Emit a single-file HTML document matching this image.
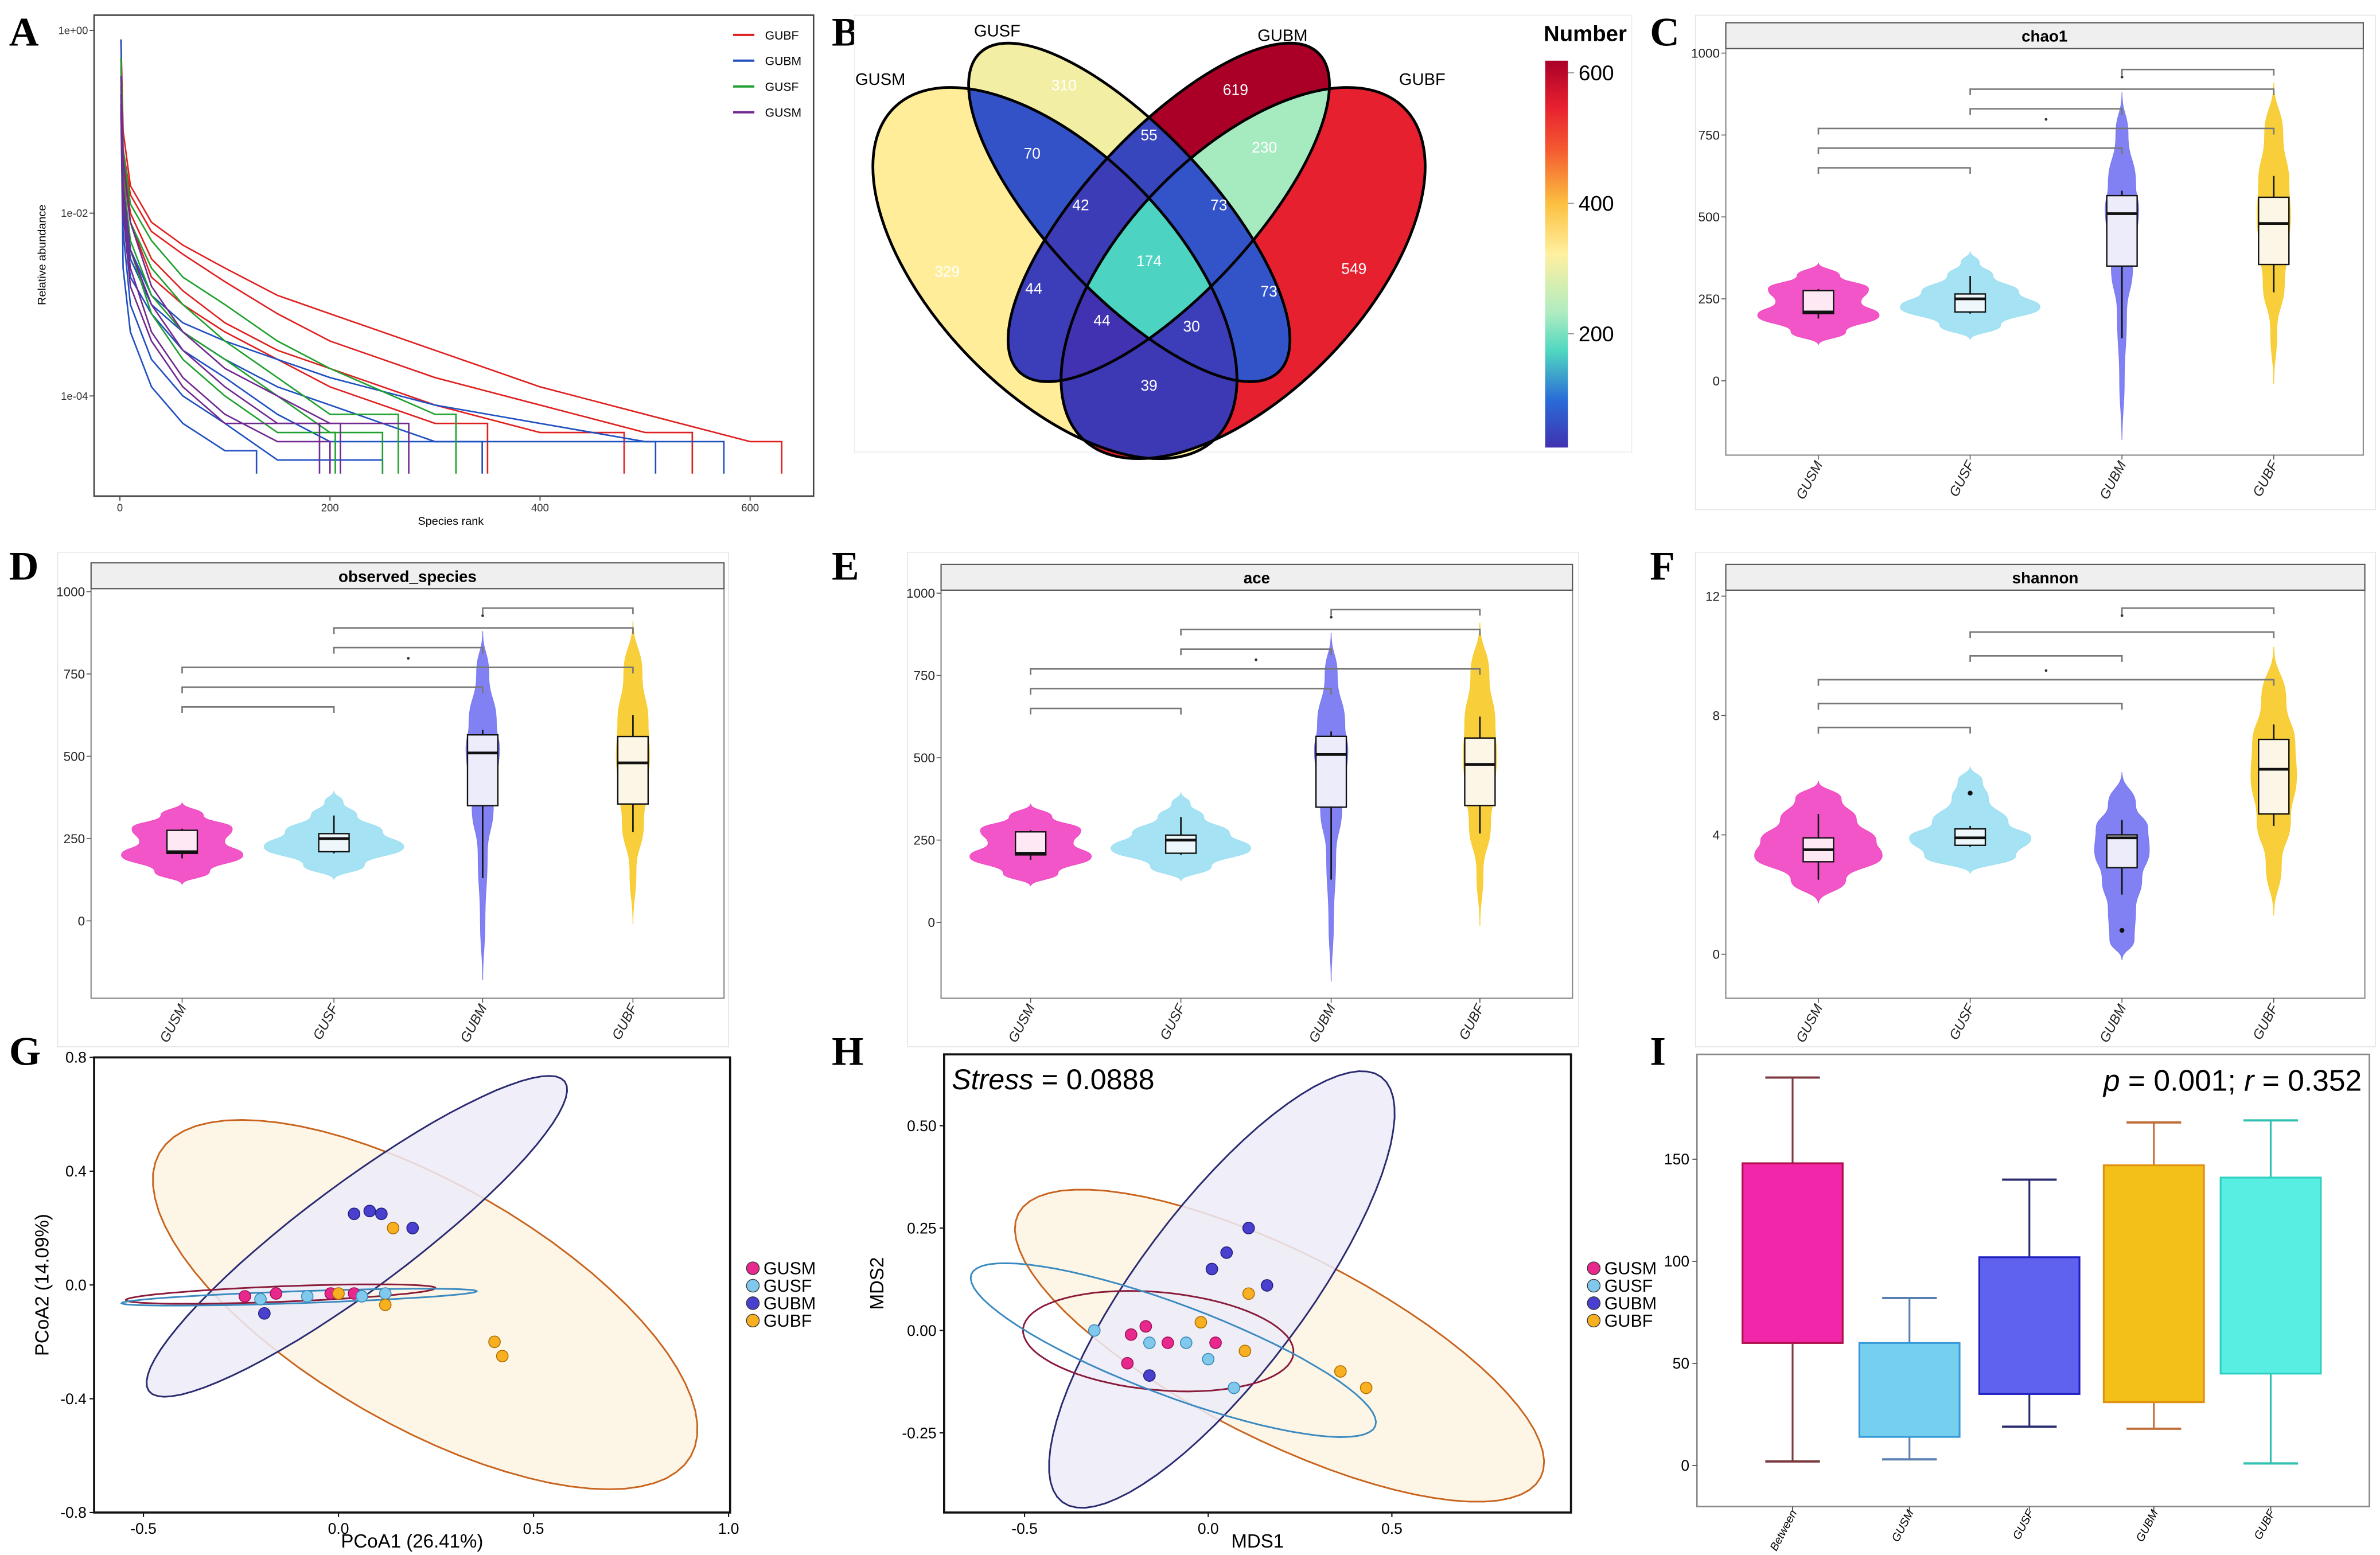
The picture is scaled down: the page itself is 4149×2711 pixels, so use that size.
<!DOCTYPE html>
<html><head><meta charset="utf-8"><style>
html,body{margin:0;padding:0;background:#fff;}
svg{display:block;font-family:"Liberation Sans",sans-serif;}
</style></head><body>
<svg id="fig" xmlns="http://www.w3.org/2000/svg" width="4149" height="2711" viewBox="0 0 1568 1025" preserveAspectRatio="none">
<defs>
<linearGradient id="cbar" x1="0" y1="1" x2="0" y2="0">
<stop offset="0" stop-color="#4032b0"/><stop offset="0.12" stop-color="#2a6ad8"/><stop offset="0.25" stop-color="#4fd8c0"/><stop offset="0.35" stop-color="#b0ecc0"/><stop offset="0.5" stop-color="#fff0a0"/><stop offset="0.63" stop-color="#fcc040"/><stop offset="0.77" stop-color="#f45a30"/><stop offset="0.88" stop-color="#e82030"/><stop offset="1" stop-color="#aa0028"/>
</linearGradient>
</defs>
</svg>
<script>
// ---------- DATA ----------
const rankKnots=[1,3,10,30,60,100,150,200,300,400,500,600];
const gubfCurves=[[-0.1,-1.1,-1.7,-2.1,-2.35,-2.6,-2.9,-3.1,-3.5,-3.9,-4.2,-4.5],[-0.3,-1.3,-1.8,-2.2,-2.45,-2.75,-3.1,-3.4,-3.8,-4.1,-4.4],[-0.5,-1.4,-2.0,-2.5,-2.85,-3.2,-3.5,-3.7,-4.1,-4.4],[-0.4,-1.5,-2.1,-2.7,-3.0,-3.3,-3.6,-3.9,-4.3]];
const gubfEnds=[630,545,480,350];
const gubmCurves=[[-0.1,-1.6,-2.4,-2.9,-3.2,-3.4,-3.6,-3.8,-4.1,-4.3,-4.5],[-0.7,-1.8,-2.5,-3.0,-3.3,-3.6,-3.9,-4.1,-4.5],[-0.8,-2.0,-2.7,-3.1,-3.5,-3.8,-4.2,-4.5],[-0.9,-2.2,-3.0,-3.6,-4.0,-4.3,-4.7],[-0.8,-2.6,-3.3,-3.9,-4.3,-4.6]];
const gubmEnds=[575,510,345,250,130];
const gusfCurves=[[-0.3,-1.3,-1.9,-2.3,-2.7,-3.0,-3.4,-3.7,-4.2],[-0.5,-1.4,-2.1,-2.6,-3.0,-3.4,-3.8,-4.2],[-0.6,-1.6,-2.3,-2.9,-3.3,-3.6,-4.0,-4.4],[-0.6,-1.7,-2.4,-3.1,-3.6,-4.0,-4.4]];
const gusfEnds=[320,265,250,205];
const gusmCurves=[[-0.5,-1.4,-2.1,-2.8,-3.3,-3.7,-4.0,-4.3],[-0.7,-1.7,-2.4,-3.0,-3.5,-3.9,-4.3],[-0.8,-1.9,-2.6,-3.3,-3.8,-4.2,-4.5],[-0.9,-2.0,-2.8,-3.4,-3.9,-4.3]];
const gusmEnds=[275,210,200,190];
const groupNamesA=['GUBF','GUBM','GUSF','GUSM'];
const yTicksA=[0,-2,-4];
const yTickLabelsA=['1e+00','1e-02','1e-04'];
const xTicksA=[0,200,400,600];

const vennSets=['GUSM','GUSF','GUBM','GUBF'];
const vennRegions=[[0],[1],[2],[3],[0,1],[1,2],[2,3],[0,3],[0,2],[1,3],[0,1,2],[1,2,3],[0,1,3],[0,2,3],[0,1,2,3]];
const vennCounts=[329,310,619,549,70,55,230,39,44,73,42,73,44,30,174];
const cbarTicks=[200,400,600];

const vioGroups=['GUSM','GUSF','GUBM','GUBF'];
const chaoProfiles=[
 [[110,0],[150,18],[200,40],[240,28],[280,33],[320,14],[360,0]],
 [[125,0],[170,20],[225,46],[270,32],[320,15],[360,6],[395,0]],
 [[-180,0],[0,1.5],[200,3],[350,7],[450,10],[520,11],[600,9],[750,4],[880,0]],
 [[-10,0],[150,2],[300,7],[420,10],[500,11],[600,10],[750,6],[910,0]]];
const chaoBoxes=[[190,205,210,275,280],[205,210,250,265,320],[130,350,510,565,580],[270,355,480,560,625]];
const chaoBrackets=[[0,1,650],[0,2,710],[0,3,770],[1,2,830],[1,3,890],[2,3,950]];
const richTicks=[0,250,500,750,1000];
const shanProfiles=[
 [[1.7,0],[2.5,18],[3.3,42],[3.8,38],[4.5,25],[5.2,15],[5.8,0]],
 [[2.7,0],[3.3,30],[3.9,40],[4.4,25],[5.2,12],[5.8,8],[6.3,0]],
 [[-0.2,0],[0.5,8],[1.5,9],[2.5,13],[3.5,18],[4.2,17],[5,9],[6.1,0]],
 [[1.3,0],[3,5],[4.5,11],[6,15],[7,14],[8.5,8],[10.3,0]]];
const shanBoxes=[[2.5,3.1,3.5,3.9,4.7],[3.6,3.65,3.9,4.2,4.3],[2.0,2.9,3.9,4.0,4.5],[4.3,4.7,6.2,7.2,7.7]];
const shanOutliers=[[],[5.4],[0.8],[]];
const shanBrackets=[[0,1,7.6],[0,2,8.4],[0,3,9.2],[1,2,10.0],[1,3,10.8],[2,3,11.6]];
const shanTicks=[0,4,8,12];

const pcoaGUSM=[[-0.24,-0.04],[-0.16,-0.03],[0.04,-0.03],[-0.02,-0.03]];
const pcoaGUSF=[[-0.20,-0.05],[-0.08,-0.04],[0.06,-0.04],[0.12,-0.03]];
const pcoaGUBM=[[0.04,0.25],[0.08,0.26],[0.11,0.25],[0.19,0.20],[-0.19,-0.10]];
const pcoaGUBF=[[0.14,0.20],[0.12,-0.07],[0.40,-0.20],[0.42,-0.25],[0.0,-0.03]];
const pcoaEllipses=[[0.222,-0.069,0.681,-0.533,-0.154,-0.371],[0.047,0.171,0.533,0.544,0.081,-0.149],[-0.148,-0.032,0.397,0.021,0,-0.027],[-0.101,-0.043,0.455,0.021,0,-0.021]];
const pcoaXTicks=[-0.5,0.0,0.5,1.0];
const pcoaYTicks=[0.8,0.4,0.0,-0.4,-0.8];
const nmdsGUSM=[[-0.21,-0.01],[-0.17,0.01],[-0.11,-0.03],[-0.22,-0.08],[0.02,-0.03]];
const nmdsGUSF=[[-0.31,0.0],[-0.16,-0.03],[-0.06,-0.03],[0.0,-0.07],[0.07,-0.14]];
const nmdsGUBM=[[0.11,0.25],[0.05,0.19],[0.01,0.15],[-0.16,-0.11],[0.16,0.11]];
const nmdsGUBF=[[0.11,0.09],[-0.02,0.02],[0.10,-0.05],[0.36,-0.10],[0.43,-0.14]];
const nmdsEllipses=[[0.194,-0.037,0.711,-0.322,-0.116,-0.204],[0.037,0.1,0.434,0.519,0.182,-0.122],[-0.136,-0.026,0.368,-0.030,-0.012,-0.119],[-0.095,-0.048,0.55,-0.185,-0.044,-0.104]];
const nmdsXTicks=[-0.5,0.0,0.5];
const nmdsYTicks=[0.5,0.25,0.0,-0.25];
const nmdsYLabels=['0.50','0.25','0.00','-0.25'];
const anoCats=['Between','GUSM','GUSF','GUBM','GUBF'];
const anoStats=[[2,60,148,190],[3,14,60,82],[19,35,102,140],[18,31,147,168],[1,45,141,169]];
const anoTicks=[0,50,100,150];

// ---------- HELPERS ----------
const NS='http://www.w3.org/2000/svg';
const svg=document.getElementById('fig');
function mk(tag,attrs,parent){const e=document.createElementNS(NS,tag);for(const k in attrs)e.setAttribute(k,attrs[k]);(parent||svg).appendChild(e);return e;}
function txt(s,x,y,attrs,parent){const e=mk('text',Object.assign({x:x,y:y},attrs||{}),parent);e.textContent=s;return e;}
function grp(name){const g=mk('g',{});return g;}

const letters=[['A',6,30],['B',548,30],['C',1087,30],['D',6,382],['E',548,382],['F',1087,382],['G',6,702],['H',548,702],['I',1087,702]];
const gL=grp('panel-letters');
letters.forEach(l=>{const t=txt(l[0],l[1],l[2],{'font-family':'Liberation Serif,serif','font-weight':'bold','font-size':27},gL);

});

// ---------- PANEL A ----------
(function(){
const g=grp('panel-a-rank-abundance');
const xA=r=>79+r*0.692, yA=l=>20-l*60.25;
const fr=mk('rect',{x:62,y:10,width:474,height:317,fill:'#fff',stroke:'#444','stroke-width':1},g);

yTicksA.forEach((v,i)=>{mk('line',{x1:59,x2:62,y1:yA(v),y2:yA(v),stroke:'#444','stroke-width':0.7},g);
const t=txt(yTickLabelsA[i],58,yA(v)+2.5,{'font-size':7,'text-anchor':'end',fill:'#333'},g);
});
xTicksA.forEach(v=>{mk('line',{x1:xA(v),x2:xA(v),y1:327,y2:330,stroke:'#444','stroke-width':0.7},g);
const t=txt(String(v),xA(v),337,{'font-size':7,'text-anchor':'middle',fill:'#333'},g);
});
const xt=txt('Species rank',297,346,{'font-size':7.5,'text-anchor':'middle'},g);

const yt=txt('Relative abundance',30,168,{'font-size':7.5,'text-anchor':'middle',transform:'rotate(-90 30 168)'},g);

const sets=[[gubfCurves,gubfEnds,'#e02020'],[gubmCurves,gubmEnds,'#2050c0'],[gusfCurves,gusfEnds,'#20a030'],[gusmCurves,gusmEnds,'#702a90']];
sets.forEach((s,gi)=>{s[0].forEach((vals,ci)=>{const end=s[1][ci];let d='';let last=vals[0];
vals.forEach((v,k)=>{const r=rankKnots[k];if(r<=end){d+=(d?'L':'M')+xA(r).toFixed(1)+' '+yA(v).toFixed(1);last=v;}});
d+='L'+xA(end).toFixed(1)+' '+yA(last).toFixed(1)+'L'+xA(end).toFixed(1)+' '+yA(-4.85).toFixed(1);
const p=mk('path',{d:d,fill:'none',stroke:s[2],'stroke-width':1},g);

});
const ly=23+gi*17;mk('line',{x1:483,x2:497,y1:ly,y2:ly,stroke:s[2],'stroke-width':1.5},g);
const lt=txt(groupNamesA[gi],504,ly+3,{'font-size':8},g);

});
})();

// ---------- PANEL B ----------
(function(){
const g=grp('panel-b-venn');
mk('rect',{x:563,y:10,width:512,height:288,fill:'#fff',stroke:'#eee','stroke-width':0.7},g);
const ell=[[695,180,152,79,46],[744,140,144,54,47],[770,140,144,54,133],[819,180,152,79,134]];
const defs=svg.querySelector('defs');
ell.forEach((e,i)=>{const cp=mk('clipPath',{id:'ve'+i},defs);mk('ellipse',{cx:e[0],cy:e[1],rx:e[2],ry:e[3],transform:`rotate(${e[4]} ${e[0]} ${e[1]})`},cp);});
function col(v){const t=Math.max(0,Math.min(1,(v-30)/(619-30)));
const st=[[0,[64,50,176]],[0.12,[42,106,216]],[0.25,[79,216,192]],[0.35,[176,236,192]],[0.5,[255,240,160]],[0.63,[252,192,64]],[0.77,[244,90,48]],[0.88,[232,32,48]],[1,[170,0,40]]];
for(let i=1;i<st.length;i++){if(t<=st[i][0]){const a=st[i-1],b=st[i],f=(t-a[0])/(b[0]-a[0]);return 'rgb('+a[1].map((c,k)=>Math.round(c+(b[1][k]-c)*f)).join(',')+')';}}return 'rgb(170,0,40)';}
const order=vennRegions.map((r,i)=>i).sort((a,b)=>vennRegions[a].length-vennRegions[b].length);
order.forEach(ri=>{let parent=g;vennRegions[ri].forEach(si=>{parent=mk('g',{'clip-path':`url(#ve${si})`},parent);});
const r=mk('rect',{x:560,y:0,width:520,height:310,fill:col(vennCounts[ri])},parent);

});
ell.forEach((e,i)=>{const o=mk('ellipse',{cx:e[0],cy:e[1],rx:e[2],ry:e[3],transform:`rotate(${e[4]} ${e[0]} ${e[1]})`,fill:'none',stroke:'#000','stroke-width':1.8},g);
});
const labPos=[[624,179],[701,56],[814,59],[892,177],[680,101],[757,89],[833,97],[757,254],[681,190],[836,192],[712,135],[803,135],[726,211],[785,215],[757,172]];
vennCounts.forEach((c,i)=>{const t=txt(String(c),labPos[i][0],labPos[i][1]+3.5,{'font-size':10,'text-anchor':'middle',fill:'#fff'},g);

});
const setLab=[[580,52],[657,20],[845,23],[937,52]];
vennSets.forEach((s,i)=>{const t=txt(s,setLab[i][0],setLab[i][1]+4,{'font-size':11,'text-anchor':'middle'},g);
});
const cb=mk('rect',{x:1018,y:40,width:15,height:255,fill:'url(#cbar)'},g);

const yC=v=>306-v*0.43;
cbarTicks.forEach(v=>{mk('line',{x1:1033,x2:1037,y1:yC(v),y2:yC(v),stroke:'#888','stroke-width':0.6},g);
const t=txt(String(v),1040,yC(v)+5,{'font-size':14},g);
});
const nt=txt('Number',1017,27,{'font-size':14.5,'font-weight':'bold'},g);

})();

// ---------- VIOLIN PANELS ----------
const vioFill=['#f04cc4','#a0e0f2','#7a7af2','#f8cc30'];
const vioBoxFill=['#fde8f4','#eef8fc','#ececfa','#fcf6e6'];
function violinPanel(name,title,box,outer,yscale,ticks,tickLabels,catX,profiles,boxes,brackets,outliers){
const g=grp(name);
const [x0,top,x1,bot]=box;const hdrTop=top-17;
const yv=v=>yscale[1]-(v-yscale[0])*yscale[2];
mk('rect',{x:outer[0],y:outer[1],width:outer[2]-outer[0],height:outer[3]-outer[1],fill:'#fff',stroke:'#e4e4e4','stroke-width':0.6},g);
mk('rect',{x:x0,y:top,width:x1-x0,height:bot-top,fill:'#fff',stroke:'#888','stroke-width':0.8},g);
const h=mk('rect',{x:x0,y:hdrTop,width:x1-x0,height:17,fill:'#efefef',stroke:'#555','stroke-width':0.8},g);

const tt=txt(title,(x0+x1)/2,hdrTop+12.5,{'font-size':10.5,'font-weight':'bold','text-anchor':'middle'},g);

ticks.forEach((v,i)=>{mk('line',{x1:x0-3,x2:x0,y1:yv(v),y2:yv(v),stroke:'#555','stroke-width':0.6},g);
const t=txt(tickLabels[i],x0-4,yv(v)+3,{'font-size':8.5,'text-anchor':'end',fill:'#222'},g);
});
vioGroups.forEach((gn,i)=>{const cx=catX[i];const pr=profiles[i];
let d='M'+cx+' '+yv(pr[0][0]);
for(let k=1;k<pr.length;k++){const py=yv(pr[k][0]),pyp=yv(pr[k-1][0]);d+=`C${cx+pr[k-1][1]} ${(pyp+py)/2} ${cx+pr[k][1]} ${(pyp+py)/2} ${cx+pr[k][1]} ${py}`;}
for(let k=pr.length-2;k>=0;k--){const py=yv(pr[k][0]),pyp=yv(pr[k+1][0]);d+=`C${cx-pr[k+1][1]} ${(pyp+py)/2} ${cx-pr[k][1]} ${(pyp+py)/2} ${cx-pr[k][1]} ${py}`;}
const v=mk('path',{d:d+'Z',fill:vioFill[i],stroke:vioFill[i],'stroke-width':0.5,'fill-opacity':0.95},g);


const b=boxes[i];
mk('line',{x1:cx,x2:cx,y1:yv(b[0]),y2:yv(b[4]),stroke:'#111','stroke-width':1},g);
const bw=10;
const r=mk('rect',{x:cx-bw,y:yv(b[3]),width:bw*2,height:yv(b[1])-yv(b[3]),fill:vioBoxFill[i],stroke:'#111','stroke-width':0.9},g);


mk('line',{x1:cx-bw,x2:cx+bw,y1:yv(b[2]),y2:yv(b[2]),stroke:'#111','stroke-width':1.8},g);
if(outliers){outliers[i].forEach(o=>{mk('circle',{cx:cx,cy:yv(o),r:1.6,fill:'#111'},g);});}
mk('line',{x1:cx,x2:cx,y1:bot,y2:bot+3,stroke:'#555','stroke-width':0.6},g);
const lx=cx+3,ly=bot+6;
const t=txt(gn,lx,ly,{'font-size':9,'font-style':'italic','text-anchor':'end',transform:`rotate(-62 ${lx} ${ly})`,fill:'#222'},g);
});
brackets.forEach(br=>{const y=yv(br[2]);const xa=catX[br[0]],xb=catX[br[1]];
const p=mk('path',{d:`M${xa} ${y+4}V${y}H${xb}V${y+4}`,fill:'none',stroke:'#777','stroke-width':1},g);

});
const b23=brackets[5];mk('circle',{cx:catX[2],cy:yv(b23[2])+5,r:0.9,fill:'#333'},g);
const b03=brackets[2];mk('circle',{cx:(catX[1]+catX[2])/2,cy:yv(b03[2])-6,r:0.9,fill:'#333'},g);
}
const tickStr=a=>a.map(String);
violinPanel('panel-c-chao1','chao1',[1137,32,1557,300],[1117,10,1565,336],[0,251,0.216],richTicks,tickStr(richTicks),[1198,1298,1398,1498],chaoProfiles,chaoBoxes,chaoBrackets,null);
violinPanel('panel-d-observed-species','observed_species',[60,388,477,658],[38,364,480,690],[0,607,0.217],richTicks,tickStr(richTicks),[120,220,318,417],chaoProfiles,chaoBoxes,chaoBrackets,null);
violinPanel('panel-e-ace','ace',[620,389,1036,658],[598,364,1040,690],[0,608,0.217],richTicks,tickStr(richTicks),[679,778,877,975],chaoProfiles,chaoBoxes,chaoBrackets,null);
violinPanel('panel-f-shannon','shannon',[1137,389,1558,658],[1117,364,1565,690],[0,629,19.67],shanTicks,tickStr(shanTicks),[1198,1298,1398,1498],shanProfiles,shanBoxes,shanBrackets,shanOutliers);

// ---------- SCATTER PANELS ----------
const ptCol=['#e8288c','#80c8ec','#4a40d0','#f8b020'];
const ptStroke=['#a0105a','#3a88b8','#22207a','#b07000'];
const ellStroke=['#c8641e','#2a2a70','#8a1a3a','#3a8ac0'];
const ellFill=['#fdf3e2','#ecebf8','none','none'];
const legNames=['GUSM','GUSF','GUBM','GUBF'];
function scatterPanel(name,box,xmap,ymap,xt,xtl,yt,ytl,groups,ells,xtitle,ytitle,ytx,legX){
const g=grp(name);
const [x0,y0,x1,y1]=box;
mk('rect',{x:x0,y:y0,width:x1-x0,height:y1-y0,fill:'#fff',stroke:'#111','stroke-width':1.4},g);
ells.forEach((e,i)=>{let d='';for(let k=0;k<=72;k++){const t=k/72*2*Math.PI;const dx=e[0]+e[2]*Math.cos(t)+e[4]*Math.sin(t);const dy=e[1]+e[3]*Math.cos(t)+e[5]*Math.sin(t);d+=(k?'L':'M')+xmap(dx).toFixed(1)+' '+ymap(dy).toFixed(1);}
const p=mk('path',{d:d+'Z',fill:ellFill[i],'fill-opacity':0.85,stroke:ellStroke[i],'stroke-width':1.1},g);

});
groups.forEach((pts,gi)=>{pts.forEach(pt=>{const c=mk('circle',{cx:xmap(pt[0]),cy:ymap(pt[1]),r:3.8,fill:ptCol[gi],stroke:ptStroke[gi],'stroke-width':0.6},g);

});});
xt.forEach((v,i)=>{mk('line',{x1:xmap(v),x2:xmap(v),y1:y1,y2:y1+3,stroke:'#111','stroke-width':0.8},g);
const t=txt(xtl[i],xmap(v),y1+14,{'font-size':10,'text-anchor':'middle'},g);
});
yt.forEach((v,i)=>{mk('line',{x1:x0-3,x2:x0,y1:ymap(v),y2:ymap(v),stroke:'#111','stroke-width':0.8},g);
const t=txt(ytl[i],x0-5,ymap(v)+3.5,{'font-size':10,'text-anchor':'end'},g);
});
const a=txt(xtitle,(x0+x1)/2,1020,{'font-size':12.5,'text-anchor':'middle'},g);

const b=txt(ytitle,ytx,(y0+y1)/2,{'font-size':12.5,'text-anchor':'middle',transform:`rotate(-90 ${ytx} ${(y0+y1)/2})`},g);

legNames.forEach((n,i)=>{const ly=836+i*11.5;mk('circle',{cx:legX,cy:ly,r:4.2,fill:ptCol[i],stroke:'#333','stroke-width':0.5},g);
const t=txt(n,legX+7,ly+4,{'font-size':11.5},g);

});
return g;}
scatterPanel('panel-g-pcoa',[62,697,481,997],x=>223+x*257,y=>847-y*187.5,pcoaXTicks,['-0.5','0.0','0.5','1.0'],pcoaYTicks,['0.8','0.4','0.0','-0.4','-0.8'],[pcoaGUSM,pcoaGUSF,pcoaGUBM,pcoaGUBF],pcoaEllipses,'PCoA1 (26.41%)','PCoA2 (14.09%)',32,496);
const gH=scatterPanel('panel-h-nmds',[622,695,1035,997],x=>796+x*242,y=>877-y*270,nmdsXTicks,['-0.5','0.0','0.5'],nmdsYTicks,nmdsYLabels,[nmdsGUSM,nmdsGUSF,nmdsGUBM,nmdsGUBF],nmdsEllipses,'MDS1','MDS2',582,1050);
const st=mk('text',{x:627,y:718,'font-size':19},gH);

st.innerHTML='<tspan font-style="italic">Stress</tspan> = 0.0888';

// ---------- PANEL I ----------
(function(){
const g=grp('panel-i-anosim');
const x0=1118,y0=695,x1=1561,y1=993;
mk('rect',{x:x0,y:y0,width:x1-x0,height:y1-y0,fill:'#fff',stroke:'#888','stroke-width':1},g);
const yv=v=>966-v*1.346;
const catX=[1181,1258,1337,1419,1496];
const fills=['#f226a8','#74d0ee','#5f62ee','#f2c018','#58efe2'];
const strokes=['#b0104a','#3a9ad8','#2020c0','#e09010','#30d0c0'];
const whisk=['#7a3a40','#5a80b0','#2a2a70','#c0703a','#30c0b0'];
anoTicks.forEach(v=>{mk('line',{x1:x0-3,x2:x0,y1:yv(v),y2:yv(v),stroke:'#555','stroke-width':0.7},g);
const t=txt(String(v),x0-5,yv(v)+3.5,{'font-size':10,'text-anchor':'end'},g);
});
anoCats.forEach((c,i)=>{const s=anoStats[i],cx=catX[i];
mk('line',{x1:cx,x2:cx,y1:yv(s[0]),y2:yv(s[3]),stroke:whisk[i],'stroke-width':1.2},g);
mk('line',{x1:cx-18,x2:cx+18,y1:yv(s[0]),y2:yv(s[0]),stroke:whisk[i],'stroke-width':1.5},g);
mk('line',{x1:cx-18,x2:cx+18,y1:yv(s[3]),y2:yv(s[3]),stroke:whisk[i],'stroke-width':1.5},g);
const r=mk('rect',{x:cx-33,y:yv(s[2]),width:66,height:yv(s[1])-yv(s[2]),fill:fills[i],stroke:strokes[i],'stroke-width':1.2},g);


mk('line',{x1:cx,x2:cx,y1:y1,y2:y1+3,stroke:'#555','stroke-width':0.7},g);
const lx=cx+3,ly=y1+4;
const t=txt(c,lx,ly,{'font-size':7.5,'font-style':'italic','text-anchor':'end',transform:`rotate(-62 ${lx} ${ly})`},g);
});
const an=mk('text',{x:1556,y:719,'font-size':19.5,'text-anchor':'end'},g);

an.innerHTML='<tspan font-style="italic">p</tspan> = 0.001; <tspan font-style="italic">r</tspan> = 0.352';
})();
</script>
</body></html>
